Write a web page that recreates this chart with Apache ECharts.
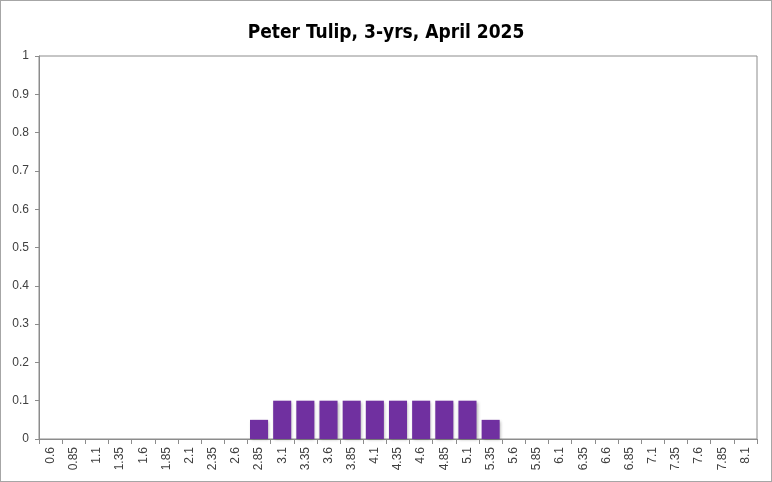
<!DOCTYPE html>
<html>
<head>
<meta charset="utf-8">
<script src="https://cdn.jsdelivr.net/npm/echarts@6/dist/echarts.min.js"></script>
<style>
  html, body { margin: 0; padding: 0; background: #fff; }
  #chart { width: 772px; height: 482px; box-sizing: border-box; border: 1px solid #a6a6a6; }
</style>
</head>
<body>
<div id="chart"></div>
<script>
// chart data
const titleText = 'Peter Tulip, 3-yrs, April 2025';
const categories = ['0.6','0.85','1.1','1.35','1.6','1.85','2.1','2.35','2.6','2.85','3.1','3.35','3.6','3.85','4.1','4.35','4.6','4.85','5.1','5.35','5.6','5.85','6.1','6.35','6.6','6.85','7.1','7.35','7.6','7.85','8.1'];
const values = [0,0,0,0,0,0,0,0,0,0.05,0.1,0.1,0.1,0.1,0.1,0.1,0.1,0.1,0.1,0.05,0,0,0,0,0,0,0,0,0,0,0];
const yTicks = [0, 0.1, 0.2, 0.3, 0.4, 0.5, 0.6, 0.7, 0.8, 0.9, 1];

const myChart = echarts.init(document.getElementById('chart'));

const option = {
  animation: false,
  title: {
    text: titleText,
    left: 'center',
    top: 18,
    textStyle: {
      fontFamily: '"Liberation Sans Narrow", "DejaVu Sans Condensed", sans-serif',
      fontWeight: 'bold',
      fontSize: 19,
      color: '#000'
    }
  },
  grid: {
    left: 38,
    right: 14,
    top: 55,
    bottom: 42,
    show: true,
    borderColor: '#8c8c8c',
    borderWidth: 1
  },
  xAxis: {
    type: 'category',
    data: categories,
    axisLine: { lineStyle: { color: '#8c8c8c' } },
    axisTick: { show: true, alignWithLabel: false, length: 5, lineStyle: { color: '#8c8c8c' } },
    axisLabel: {
      rotate: 90,
      color: '#404040',
      fontSize: 12,
      fontFamily: 'Liberation Sans, sans-serif',
      margin: 8,
      interval: 0
    }
  },
  yAxis: {
    type: 'value',
    min: yTicks[0],
    max: yTicks[yTicks.length - 1],
    interval: 0.1,
    axisLine: { show: true, lineStyle: { color: '#8c8c8c' } },
    axisTick: { show: true, length: 4, lineStyle: { color: '#8c8c8c' } },
    splitLine: { show: false },
    axisLabel: {
      color: '#404040',
      fontSize: 12,
      fontFamily: 'Liberation Sans, sans-serif',
      margin: 10,
      formatter: function (v) { return String(Math.round(v * 10) / 10); }
    }
  },
  series: [
    {
      type: 'bar',
      data: values,
      barCategoryGap: '22%',
      itemStyle: {
        color: '#7030a0',
        shadowColor: 'rgba(0,0,0,0.3)',
        shadowBlur: 3,
        shadowOffsetX: 1,
        shadowOffsetY: 1
      }
    }
  ]
};

myChart.setOption(option);
</script>
</body>
</html>
